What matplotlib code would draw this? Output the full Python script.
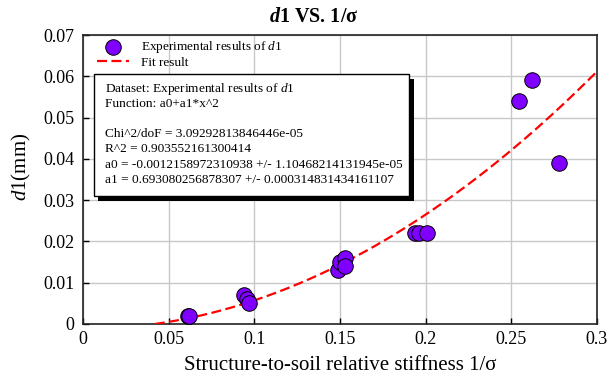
import numpy as np
import matplotlib
matplotlib.use('Agg')
import matplotlib.pyplot as plt
from matplotlib.patches import Rectangle

plt.rcParams['font.family'] = ['Liberation Serif', 'DejaVu Serif']
plt.rcParams['mathtext.fontset'] = 'custom'
plt.rcParams['mathtext.rm'] = 'Liberation Serif'
plt.rcParams['mathtext.it'] = 'Liberation Serif:italic'
plt.rcParams['mathtext.bf'] = 'Liberation Serif:bold'
plt.rcParams['mathtext.bfit'] = 'Liberation Serif:italic:bold'

# experimental points (1/sigma, d1 in mm)
inv_sigma = [0.061, 0.062, 0.094, 0.0955, 0.097, 0.149, 0.150, 0.153, 0.153,
             0.194, 0.196, 0.2005, 0.2547, 0.262, 0.278]
d1 = [0.002, 0.002, 0.007, 0.006, 0.005, 0.013, 0.015, 0.016, 0.014,
      0.022, 0.022, 0.022, 0.054, 0.059, 0.039]

# fit parameters a0 + a1*x^2
a0 = -0.0012158972310938
a1 = 0.693080256878307

box_lines = [
    'Dataset: Experimental results of $\\mathit{d}$1',
    'Function: a0+a1*x^2',
    '',
    'Chi^2/doF = 3.09292813846446e-05',
    'R^2 = 0.903552161300414',
    'a0 = -0.0012158972310938 +/- 1.10468214131945e-05',
    'a1 = 0.693080256878307 +/- 0.000314831434161107',
]

fig = plt.figure(figsize=(6.16, 3.8), dpi=100)
ax = fig.add_axes([83/616, 1-324/380, 514/616, 289/380])

x0 = np.sqrt(-a0/a1)
xf = np.linspace(x0, 0.3, 200)
yf = a0 + a1*xf**2

fit_line, = ax.plot(xf, yf, color='red', lw=1.6, dashes=(4.5, 2), zorder=3)
pts = ax.scatter(inv_sigma, d1, s=125, color='#7f00ff', edgecolors='black', linewidths=0.7,
                 zorder=4)

ax.set_xlim(0, 0.3)
ax.set_ylim(0, 0.07)
ax.set_xticks([0, 0.05, 0.1, 0.15, 0.2, 0.25, 0.3])
ax.set_xticklabels(['0', '0.05', '0.1', '0.15', '0.2', '0.25', '0.3'])
ax.set_yticks([0, 0.01, 0.02, 0.03, 0.04, 0.05, 0.06, 0.07])
ax.set_yticklabels(['0', '0.01', '0.02', '0.03', '0.04', '0.05', '0.06', '0.07'])
ax.tick_params(direction='in', labelsize=13, length=4, width=1)
ax.tick_params(axis='y', pad=6)
ax.tick_params(axis='x', pad=5)
ax.grid(True, color='#c8c8c8', lw=1)
ax.set_axisbelow(True)
for s in ax.spines.values():
    s.set_color('#222222')
    s.set_linewidth(1.2)

ax.set_xlabel('Structure-to-soil relative stiffness 1/σ', fontsize=15, labelpad=6)
ax.set_ylabel('$\\mathit{d}$1(mm)', fontsize=15)
ax.yaxis.set_label_coords(-50/514, (324-167)/289)
fig.text(314/616, 1-21.5/380, '$\\mathbfit{d}$1 VS. 1/σ', fontsize=14.5, fontweight='bold',
         ha='center', va='baseline')

# legend
ax.legend([pts, fit_line], ['Experimental results of $\\mathit{d}$1', 'Fit result'],
          loc='upper left', bbox_to_anchor=(13.7/514, 0.985), frameon=False, fontsize=9.5,
          handlelength=2.45, handletextpad=0.9, labelspacing=0.08, borderaxespad=0,
          borderpad=0)

# fit report box with shadow
bx0, bx1 = 0.022, 0.635
by0, by1 = 0.444, 0.864
ax.add_patch(Rectangle((bx0 + 0.008, by0 - 0.017), bx1 - bx0, by1 - by0,
                       transform=ax.transAxes, facecolor='black', edgecolor='none', zorder=5))
ax.add_patch(Rectangle((bx0, by0), bx1 - bx0, by1 - by0, transform=ax.transAxes,
                       facecolor='white', edgecolor='black', lw=1, zorder=6))
for i, line in enumerate(box_lines):
    yl = 324 - (91.7 + 15.2*i)
    ax.text(0.0428, yl/289, line, transform=ax.transAxes, fontsize=9.6,
            va='baseline', ha='left', zorder=7)

fig.savefig('out.png', dpi=100)
